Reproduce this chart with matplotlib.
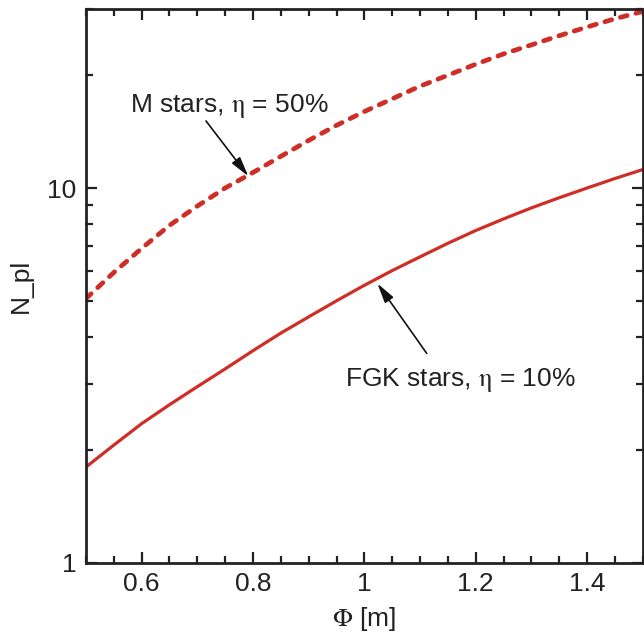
import matplotlib
matplotlib.use("Agg")
import matplotlib.pyplot as plt
from matplotlib.ticker import MultipleLocator, FixedLocator, NullFormatter, FixedFormatter

plt.rcParams['font.family'] = ['Liberation Sans', 'DejaVu Sans']
plt.rcParams['mathtext.fontset'] = 'stix'

phi = [0.5, 0.55, 0.6, 0.65, 0.7, 0.75, 0.8, 0.85, 0.9, 0.95, 1.0,
       1.05, 1.1, 1.15, 1.2, 1.25, 1.3, 1.35, 1.4, 1.45, 1.5]
n_m_stars = [5.07, 5.95, 6.9, 7.95, 8.95, 10.0, 11.0, 12.15, 13.4, 14.7, 16.0,
             17.3, 18.7, 20.0, 21.4, 22.8, 24.1, 25.5, 26.9, 28.3, 29.6]
n_fgk_stars = [1.80, 2.06, 2.35, 2.64, 2.95, 3.29, 3.68, 4.10, 4.53, 5.0, 5.50,
               6.02, 6.55, 7.12, 7.70, 8.27, 8.85, 9.42, 10.0, 10.6, 11.2]

y_major = [1, 10]
y_major_labels = ["1", "10"]
y_minor = [2, 3, 4, 5, 6, 7, 8, 9, 20, 30]

red = "#cf2e26"
ink = "#222222"

fig = plt.figure(figsize=(6.44, 6.35), dpi=100)
ax = fig.add_axes([0.1335, 0.1139, 0.8645, 0.8715])

ax.plot(phi, n_m_stars, color=red, lw=3.4, linestyle=(0, (1.5, 1.9)),
        dash_capstyle='round')
ax.plot(phi, n_fgk_stars, color=red, lw=2.3)

ax.set_yscale('log')
ax.set_xlim(0.5, 1.5)
ax.set_ylim(1, 30)

ax.yaxis.set_major_locator(FixedLocator(y_major))
ax.yaxis.set_major_formatter(FixedFormatter(y_major_labels))
ax.yaxis.set_minor_locator(FixedLocator(y_minor))
ax.yaxis.set_minor_formatter(NullFormatter())
ax.xaxis.set_minor_locator(MultipleLocator(0.05))
ax.set_xticks([0.6, 0.8, 1.0, 1.2, 1.4])
ax.set_xticklabels(["0.6", "0.8", "1", "1.2", "1.4"])

ax.tick_params(which='both', direction='in', top=True, right=True,
               width=1.6, colors=ink, labelsize=19, pad=7)
ax.tick_params(which='major', length=8)
ax.tick_params(which='minor', length=5)
for s in ax.spines.values():
    s.set_linewidth(2.0)
    s.set_color(ink)

ax.set_xlabel(r"$\Phi$ [m]", fontsize=19, color=ink, labelpad=6)
ax.set_ylabel("N_pl", fontsize=19, color=ink, labelpad=10)

arrow = dict(arrowstyle='-|>,head_length=0.85,head_width=0.22', color='#111111',
             lw=1.2, shrinkA=0, shrinkB=0, mutation_scale=14)

# M stars label and arrow
ax.text(0.579, 16.6, r"M stars, $\mathrm{\eta}$ = 50%", fontsize=19, color=ink,
        ha='left', va='center')
ax.annotate("", xy=(0.7916, 10.75), xytext=(0.7156, 15.1), arrowprops=arrow)

# FGK stars label and arrow
ax.text(0.966, 3.08, r"FGK stars, $\mathrm{\eta}$ = 10%", fontsize=19, color=ink,
        ha='left', va='center')
ax.annotate("", xy=(1.0235, 5.56), xytext=(1.112, 3.62), arrowprops=arrow)

fig.savefig("out.png", dpi=100)
